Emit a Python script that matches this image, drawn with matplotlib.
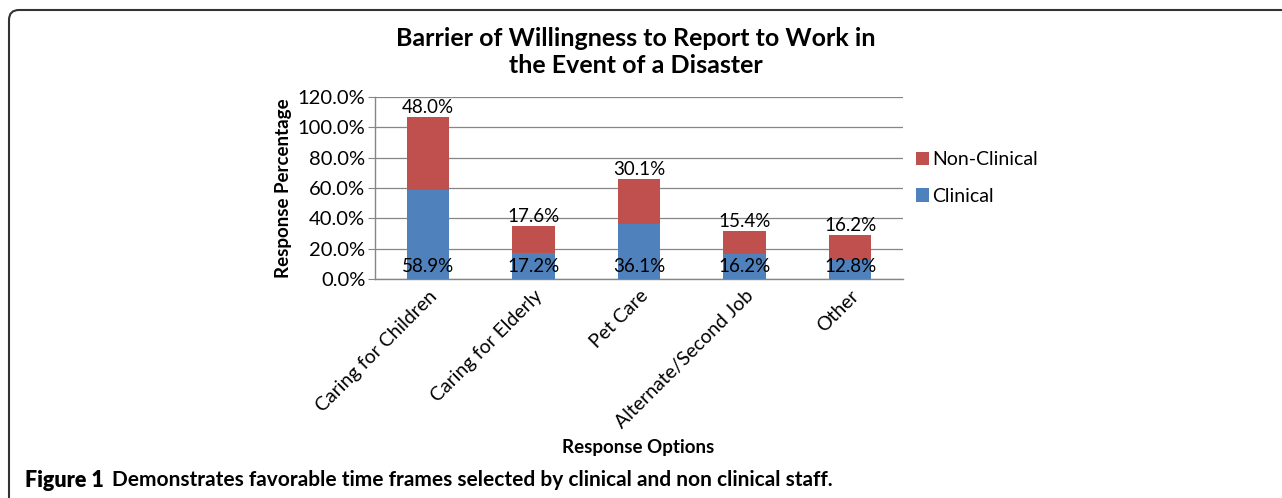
import matplotlib.pyplot as plt
from matplotlib.patches import FancyBboxPatch
import numpy as np

plt.rcParams['font.family'] = ['Lato', 'DejaVu Sans']

categories = ["Caring for Children", "Caring for Elderly", "Pet Care",
              "Alternate/Second Job", "Other"]
clinical = [58.9, 17.2, 36.1, 16.2, 12.8]
non_clinical = [48.0, 17.6, 30.1, 15.4, 16.2]
yticks = [0, 20, 40, 60, 80, 100, 120]

fig = plt.figure(figsize=(12.82, 4.98), dpi=100)
ax = fig.add_axes([375 / 1282, 1 - 279 / 498, 528 / 1282, 182 / 498])

x = np.arange(len(categories))
w = 0.4
ax.bar(x, clinical, w, color="#4F81BD", label="Clinical", zorder=3)
ax.bar(x, non_clinical, w, bottom=clinical, color="#C0504D",
       label="Non-Clinical", zorder=3)

for i in range(len(categories)):
    ax.text(x[i], 8.5, "%.1f%%" % clinical[i], ha="center", va="center",
            fontsize=13.5, zorder=4)
    ax.text(x[i], clinical[i] + non_clinical[i] + 0.5, "%.1f%%" % non_clinical[i],
            ha="center", va="bottom", fontsize=13.5, zorder=4)

ax.set_xlim(-0.5, len(categories) - 0.5)
ax.set_ylim(0, 120)
ax.set_yticks(yticks)
ax.set_yticklabels(["%.1f%%" % v for v in yticks], fontsize=14.5)
ax.set_xticks(x)
ax.set_xticklabels(categories, rotation=45, ha="right", rotation_mode="anchor",
                   fontsize=14)
ax.tick_params(axis="x", length=0, pad=6)
ax.tick_params(axis="y", length=5, color="#868686", pad=2)
ax.yaxis.grid(True, color="#868686", linewidth=0.9, zorder=0)
for s in ["top", "right"]:
    ax.spines[s].set_visible(False)
for s in ["left", "bottom"]:
    ax.spines[s].set_color("#868686")
    ax.spines[s].set_linewidth(1.0)

ax.set_ylabel("Response Percentage", fontsize=13.5, fontweight="bold", labelpad=4)
fig.text(638 / 1282, 1 - 447 / 498, "Response Options", ha="center",
         va="center", fontsize=13.5, fontweight="bold")
fig.text(636 / 1282, 1 - 52 / 498,
         "Barrier of Willingness to Report to Work in\nthe Event of a Disaster",
         ha="center", va="center", fontsize=18, fontweight="bold",
         linespacing=1.25)

h, l = ax.get_legend_handles_labels()
fig.legend(h[::-1], l[::-1], loc="center left",
           bbox_to_anchor=(898 / 1282, 1 - 178 / 498), frameon=False,
           fontsize=14, handlelength=0.7, handleheight=0.7,
           handletextpad=0.15, labelspacing=1.0)

fig.text(25 / 1282, 1 - 480 / 498,
         "Figure 1", fontsize=15.5, fontweight="heavy", va="center")
fig.text(112 / 1282, 1 - 480 / 498,
         "Demonstrates favorable time frames selected by clinical and non clinical staff.",
         fontsize=15, fontweight="bold", va="center")

# open frame: rounded top-left corner, runs off the right and bottom edges
frame = FancyBboxPatch((9, -30), 1320, 498 - 10 + 30,
                       boxstyle="round,pad=0,rounding_size=10",
                       transform=None, fill=False,
                       edgecolor="#333333", linewidth=1.5)
fig.patches.append(frame)

fig.savefig("out.png", dpi=100)
